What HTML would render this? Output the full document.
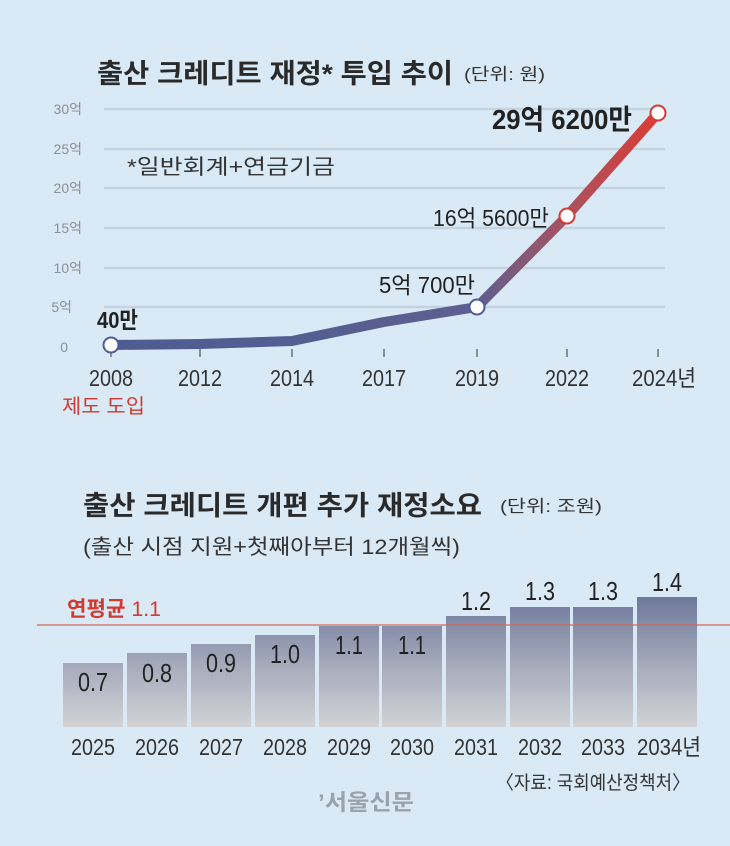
<!DOCTYPE html>
<html><head><meta charset="utf-8">
<style>
html,body{margin:0;padding:0;background:#d9eaf6;}
svg{display:block;}
text{font-family:"Liberation Sans","Noto Sans CJK KR",sans-serif;}
</style></head>
<body>
<svg width="730" height="846" viewBox="0 0 730 846" xmlns="http://www.w3.org/2000/svg">
<defs>
<linearGradient id="lg" gradientUnits="userSpaceOnUse" x1="111" y1="0" x2="658" y2="0">
<stop offset="0" stop-color="#4d5c92"/>
<stop offset="0.67" stop-color="#5d5f90"/>
<stop offset="0.83" stop-color="#a85360"/>
<stop offset="1" stop-color="#dc3b35"/>
</linearGradient>
<linearGradient id="bg" gradientUnits="userSpaceOnUse" x1="0" y1="597" x2="0" y2="727">
<stop offset="0" stop-color="#6e799b"/>
<stop offset="0.5" stop-color="#a3a8ba"/>
<stop offset="1" stop-color="#d3d3d5"/>
</linearGradient>
</defs>
<rect width="730" height="846" fill="#d9eaf6"/>
<text x="97" y="83" font-size="27" font-weight="bold" fill="#2a2a2a" textLength="356" lengthAdjust="spacingAndGlyphs">출산 크레디트 재정* 투입 추이</text>
<text x="464" y="80" font-size="17" fill="#333" textLength="81" lengthAdjust="spacingAndGlyphs">(단위: 원)</text>
<g stroke="#c4d3df" stroke-width="2.5">
<line x1="104" y1="109" x2="665" y2="109"/>
<line x1="104" y1="149" x2="665" y2="149"/>
<line x1="104" y1="188" x2="665" y2="188"/>
<line x1="104" y1="228" x2="665" y2="228"/>
<line x1="104" y1="268" x2="665" y2="268"/>
<line x1="104" y1="307" x2="665" y2="307"/>
</g>
<g font-size="14" fill="#8a8f96" text-anchor="end">
<text x="82" y="114">30억</text><text x="82" y="154">25억</text><text x="82" y="193">20억</text>
<text x="82" y="233">15억</text><text x="82" y="273">10억</text><text x="72" y="312">5억</text>
<text x="68" y="352">0</text>
</g>
<text x="127" y="174" font-size="21" fill="#333" textLength="208" lengthAdjust="spacingAndGlyphs">*일반회계+연금기금</text>
<g stroke="#555" stroke-width="1.2">
<line x1="111" y1="349" x2="111" y2="357"/><line x1="200" y1="349" x2="200" y2="357"/>
<line x1="292" y1="349" x2="292" y2="357"/><line x1="384" y1="349" x2="384" y2="357"/>
<line x1="477" y1="349" x2="477" y2="357"/><line x1="567" y1="349" x2="567" y2="357"/>
<line x1="658" y1="349" x2="658" y2="357"/>
</g>
<polyline points="111,345 200,344 292,341 384,322 477,307 567,216 658,113" fill="none" stroke="url(#lg)" stroke-width="10" stroke-linejoin="round"/>
<g stroke-width="2" fill="#fff">
<circle cx="111" cy="345" r="7.5" stroke="#4d5c92"/>
<circle cx="477" cy="307" r="7.5" stroke="#4d5c92"/>
<circle cx="567" cy="216" r="7.5" stroke="#d63a35"/>
<circle cx="658" cy="113" r="7.5" stroke="#d63a35"/>
</g>
<g font-size="23" fill="#222">
<text x="97" y="328" font-weight="bold" textLength="41" lengthAdjust="spacingAndGlyphs">40만</text>
<text x="379" y="293" textLength="96" lengthAdjust="spacingAndGlyphs">5억 700만</text>
<text x="433" y="226" textLength="116" lengthAdjust="spacingAndGlyphs">16억 5600만</text>
<text x="492" y="129" font-size="28" font-weight="bold" textLength="140" lengthAdjust="spacingAndGlyphs">29억 6200만</text>
</g>
<g font-size="23" fill="#333" text-anchor="middle">
<text x="111" y="386" textLength="44" lengthAdjust="spacingAndGlyphs">2008</text>
<text x="200" y="386" textLength="44" lengthAdjust="spacingAndGlyphs">2012</text>
<text x="292" y="386" textLength="44" lengthAdjust="spacingAndGlyphs">2014</text>
<text x="384" y="386" textLength="44" lengthAdjust="spacingAndGlyphs">2017</text>
<text x="477" y="386" textLength="44" lengthAdjust="spacingAndGlyphs">2019</text>
<text x="567" y="386" textLength="44" lengthAdjust="spacingAndGlyphs">2022</text>
<text x="664" y="386" textLength="64" lengthAdjust="spacingAndGlyphs">2024년</text>
</g>
<text x="62" y="413" font-size="20" fill="#d23a30" textLength="83" lengthAdjust="spacingAndGlyphs">제도 도입</text>
<text x="83" y="515" font-size="27" font-weight="bold" fill="#2a2a2a" textLength="399" lengthAdjust="spacingAndGlyphs">출산 크레디트 개편 추가 재정소요</text>
<text x="500" y="512" font-size="17" fill="#333" textLength="102" lengthAdjust="spacingAndGlyphs">(단위: 조원)</text>
<text x="83" y="554" font-size="21" fill="#333" textLength="377" lengthAdjust="spacingAndGlyphs">(출산 시점 지원+첫째아부터 12개월씩)</text>
<g fill="url(#bg)">
<rect x="63" y="663" width="60" height="64"/>
<rect x="127" y="653" width="60" height="74"/>
<rect x="191" y="644" width="60" height="83"/>
<rect x="255" y="635" width="60" height="92"/>
<rect x="319" y="626" width="60" height="101"/>
<rect x="382" y="626" width="60" height="101"/>
<rect x="446" y="616" width="60" height="111"/>
<rect x="510" y="607" width="60" height="120"/>
<rect x="573" y="607" width="60" height="120"/>
<rect x="637" y="597" width="60" height="130"/>
</g>
<line x1="37" y1="625" x2="730" y2="625" stroke="#d4675a" stroke-width="1.3"/>
<text x="67" y="616" font-size="21" fill="#d23a30" textLength="94" lengthAdjust="spacingAndGlyphs"><tspan font-weight="bold">연평균</tspan> 1.1</text>
<g font-size="26" fill="#222" text-anchor="middle">
<text x="93" y="691" textLength="30" lengthAdjust="spacingAndGlyphs">0.7</text>
<text x="157" y="682" textLength="30" lengthAdjust="spacingAndGlyphs">0.8</text>
<text x="221" y="672" textLength="30" lengthAdjust="spacingAndGlyphs">0.9</text>
<text x="285" y="663" textLength="30" lengthAdjust="spacingAndGlyphs">1.0</text>
<text x="349" y="654" textLength="28" lengthAdjust="spacingAndGlyphs">1.1</text>
<text x="412" y="654" textLength="28" lengthAdjust="spacingAndGlyphs">1.1</text>
<text x="476" y="610" textLength="30" lengthAdjust="spacingAndGlyphs">1.2</text>
<text x="540" y="600" textLength="30" lengthAdjust="spacingAndGlyphs">1.3</text>
<text x="603" y="600" textLength="30" lengthAdjust="spacingAndGlyphs">1.3</text>
<text x="667" y="591" textLength="30" lengthAdjust="spacingAndGlyphs">1.4</text>
</g>
<g font-size="23" fill="#333" text-anchor="middle">
<text x="93" y="755" textLength="44" lengthAdjust="spacingAndGlyphs">2025</text>
<text x="157" y="755" textLength="44" lengthAdjust="spacingAndGlyphs">2026</text>
<text x="221" y="755" textLength="44" lengthAdjust="spacingAndGlyphs">2027</text>
<text x="285" y="755" textLength="44" lengthAdjust="spacingAndGlyphs">2028</text>
<text x="349" y="755" textLength="44" lengthAdjust="spacingAndGlyphs">2029</text>
<text x="412" y="755" textLength="44" lengthAdjust="spacingAndGlyphs">2030</text>
<text x="476" y="755" textLength="44" lengthAdjust="spacingAndGlyphs">2031</text>
<text x="540" y="755" textLength="44" lengthAdjust="spacingAndGlyphs">2032</text>
<text x="603" y="755" textLength="44" lengthAdjust="spacingAndGlyphs">2033</text>
<text x="669" y="755" textLength="64" lengthAdjust="spacingAndGlyphs">2034년</text>
</g>
<text x="496" y="789" font-size="19" fill="#333" textLength="194" lengthAdjust="spacingAndGlyphs">〈자료: 국회예산정책처〉</text>
<text x="318" y="810" font-size="22" fill="#9aa3ab" font-weight="bold" textLength="96" lengthAdjust="spacingAndGlyphs">’서울신문</text>
</svg>
</body></html>
